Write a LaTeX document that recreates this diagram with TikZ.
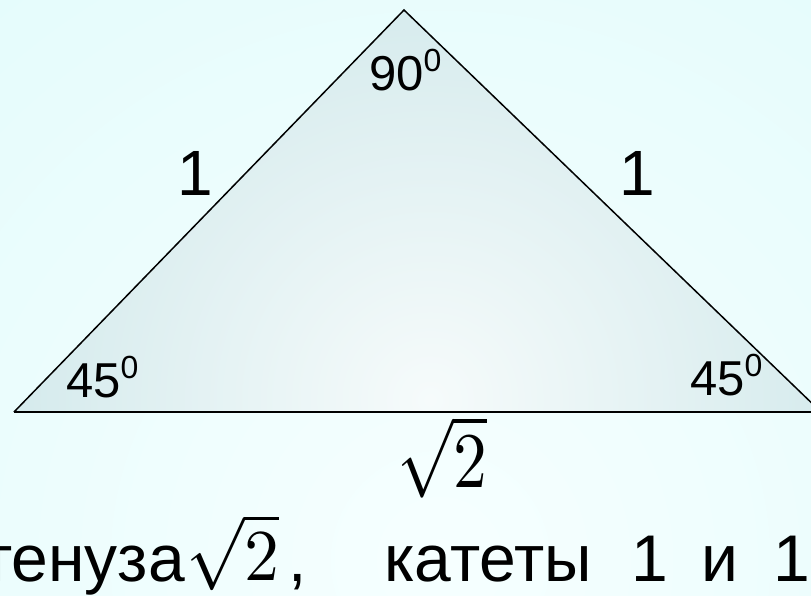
\documentclass[tikz,border=0pt]{standalone}
\usepackage{fontspec}
\setmainfont{Liberation Sans}
\usepackage{graphicx}
\definecolor{bgout}{RGB}{220,250,250}
\definecolor{bgin}{RGB}{246,255,255}
\definecolor{triout}{RGB}{184,220,224}
\definecolor{triin}{RGB}{246,251,251}
\tikzset{
  lab/.style={inner sep=0pt, anchor=base west, text=black},
  labe/.style={inner sep=0pt, anchor=base east, text=black},
  edgeline/.style={draw=black, line width=1.5pt, line join=miter},
}
\newcommand{\fsz}[1]{\fontsize{#1}{#1}\selectfont}
\newcommand{\degsup}{{\fsz{32}\raisebox{19pt}{0}}}
\begin{document}
\begin{tikzpicture}[x=1pt,y=-1pt]
\useasboundingbox (0,0) rectangle (811,595);
% background
\begin{scope}
  \clip (0,0) rectangle (811,595);
  \shade[inner color=bgin, outer color=bgout] (440,560) circle (1100);
\end{scope}
% triangle vertices
\coordinate (A) at (404,10);
\coordinate (B) at (14,412);
\coordinate (C) at (821,412);
\begin{scope}
  \clip (A) -- (B) -- (C) -- cycle;
  \shade[inner color=triin, outer color=triout] (430,400) circle (780);
\end{scope}
\draw[edgeline] (B) -- (A) -- (C);
\draw[black, line width=2.4pt] (B) -- (C);
% angle labels
\node[lab, font=\fsz{49}] (t90) at (369,90) {90\degsup};
\node[lab, font=\fsz{49}] (t45l) at (66,397) {45\degsup};
\node[lab, font=\fsz{49}] (t45r) at (690,395) {45\degsup};
% side labels
\node[lab, font=\fsz{64}] (s1l) at (177,195) {1};
\node[lab, font=\fsz{64}] (s1r) at (619,195) {1};
% hypotenuse label
\node[inner sep=0pt, anchor=north west] (hyp) at (397,416) {\resizebox*{90pt}{82pt}{$\sqrt{2}$}};
% bottom text
\node[labe, font=\fsz{66}] (w1) at (185,581) {тенуза};
\node[inner sep=0pt, anchor=north west] (w2) at (186,514) {\resizebox*{93pt}{76pt}{$\sqrt{2}$}};
\node[lab, font=\fsz{66}] (w3) at (288,581) {,};
\node[labe, font=\fsz{66}] (w4) at (592,581) {катеты};
\node[lab, font=\fsz{66}] (w5) at (631,581) {1};
\node[lab, font=\fsz{66}] (w6) at (701,581) {и};
\node[lab, font=\fsz{66}] (w7) at (773,581) {1};
\end{tikzpicture}
\end{document}
